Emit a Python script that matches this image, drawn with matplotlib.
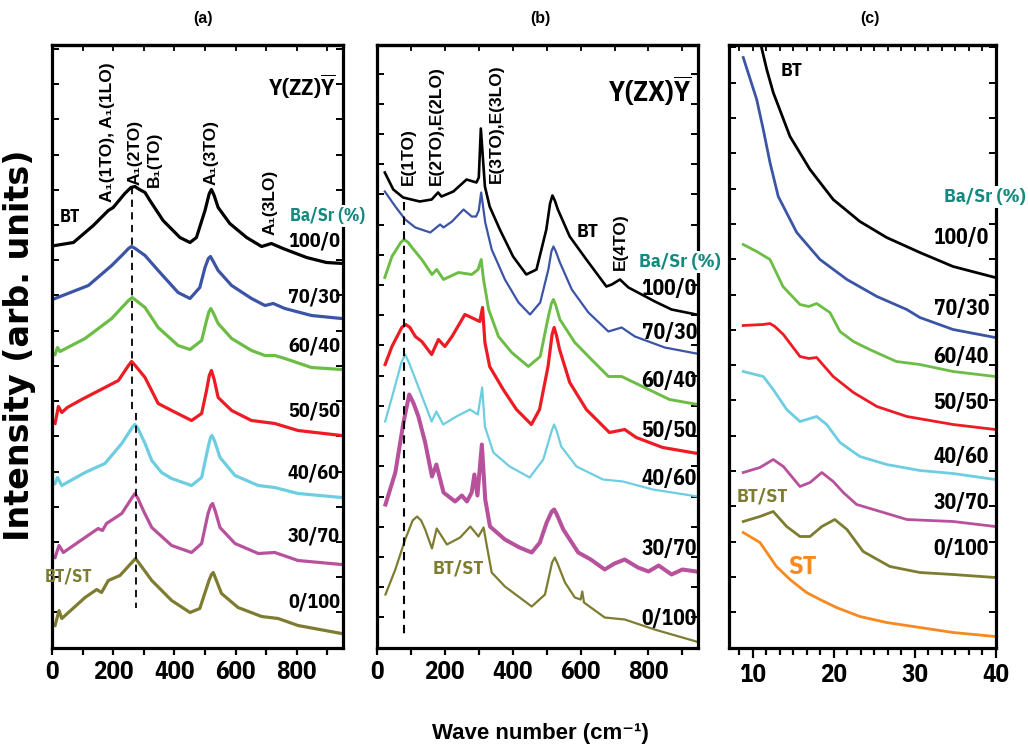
import matplotlib
matplotlib.use('Agg')
import matplotlib.pyplot as plt
from matplotlib.ticker import MultipleLocator, NullFormatter

COND = ['IBM Plex Sans Condensed', 'DejaVu Sans']
SANS = ['Liberation Sans', 'DejaVu Sans']
plt.rcParams['font.family'] = COND
plt.rcParams['font.weight'] = 'bold'
plt.rcParams['mathtext.fontset'] = 'custom'
plt.rcParams['mathtext.rm'] = 'IBM Plex Sans Condensed:bold'
plt.rcParams['mathtext.bf'] = 'IBM Plex Sans Condensed:bold'

# ---------------- colours ----------------
C_100 = '#000000'
C_70 = '#3b54a5'
C_60 = '#6cbd45'
C_50 = '#ed1c24'
C_40 = '#6dcde1'
C_30 = '#b8519c'
C_0 = '#7d7c31'
C_ST = '#f7891f'
TEAL = '#13897f'

comp_labels = ['100/0', '70/30', '60/40', '50/50', '40/60', '30/70', '0/100']

# ---------------- panel (a): Y(ZZ)Y, wave number (cm-1) vs intensity ----------------
a_100_x = [10, 70, 135, 184, 200, 238, 258, 271, 286, 304, 320, 363, 418, 451, 472, 500, 514, 521, 530, 543, 581, 636, 685, 717, 755, 832, 897, 951]
a_100_y = [402, 405, 422, 437, 440, 454, 460, 461, 458, 455, 447, 427, 410, 405, 410, 437, 454, 458, 452, 440, 424, 410, 401, 404, 399, 390, 385, 384]
a_70_x = [10, 119, 195, 228, 250, 260, 272, 304, 347, 412, 451, 483, 500, 511, 518, 527, 543, 587, 652, 696, 723, 761, 848, 946]
a_70_y = [349, 362, 382, 392, 399, 401, 399, 392, 377, 355, 349, 360, 380, 389, 391, 386, 377, 362, 349, 342, 344, 339, 332, 329]
a_60_x = [10, 18, 26, 108, 195, 250, 262, 275, 304, 347, 412, 451, 489, 505, 513, 519, 528, 543, 587, 652, 696, 728, 761, 848, 946]
a_60_y = [293, 300, 296, 309, 329, 347, 350, 347, 340, 320, 302, 298, 307, 327, 336, 339, 334, 324, 309, 297, 292, 292, 289, 280, 278]
a_50_x = [10, 21, 32, 50, 97, 173, 217, 250, 260, 272, 304, 347, 391, 456, 489, 505, 514, 521, 530, 543, 587, 652, 728, 804, 946]
a_50_y = [224, 241, 235, 240, 248, 260, 267, 282, 286, 282, 270, 244, 237, 227, 234, 257, 272, 277, 268, 250, 237, 227, 224, 217, 212]
a_40_x = [10, 18, 32, 108, 173, 228, 262, 271, 281, 304, 326, 358, 391, 456, 489, 510, 518, 523, 532, 549, 598, 674, 728, 804, 946]
a_40_y = [164, 170, 162, 175, 184, 204, 220, 223, 219, 204, 187, 175, 169, 162, 170, 200, 210, 212, 206, 190, 172, 162, 160, 154, 150]
a_30_x = [10, 23, 37, 108, 151, 165, 178, 228, 262, 271, 281, 300, 326, 391, 456, 489, 510, 519, 525, 534, 549, 598, 674, 728, 804, 946]
a_30_y = [90, 102, 95, 110, 119, 117, 124, 134, 150, 154, 149, 136, 120, 102, 95, 104, 134, 142, 144, 136, 120, 104, 94, 95, 87, 83]
a_0_x = [10, 23, 32, 108, 146, 162, 184, 222, 264, 273, 283, 326, 391, 451, 483, 513, 521, 527, 536, 554, 608, 685, 739, 804, 946]
a_0_y = [22, 37, 29, 50, 58, 55, 67, 72, 86, 89, 85, 67, 47, 35, 39, 67, 73, 75, 68, 54, 40, 31, 29, 22, 14]
a_dash1_x = [263, 263]
a_dash1_y = [460, 234]
a_dash2_x = [275, 275]
a_dash2_y = [234, 40]

# ---------------- panel (b): Y(ZX)Y ----------------
b_100_x = [23, 48, 77, 126, 161, 180, 190, 225, 264, 293, 300, 306, 318, 332, 362, 401, 440, 470, 499, 510, 517, 524, 533, 568, 617, 676, 692, 716, 741, 819, 868, 941]
b_100_y = [475, 458, 450, 446, 448, 455, 451, 456, 468, 465, 470, 519, 461, 441, 418, 391, 373, 378, 418, 444, 452, 447, 438, 411, 388, 361, 363, 368, 360, 346, 338, 333]
b_70_x = [23, 54, 83, 113, 157, 186, 196, 221, 255, 279, 292, 300, 307, 319, 338, 377, 417, 451, 481, 505, 514, 520, 527, 539, 574, 623, 682, 721, 760, 848, 941]
b_70_y = [456, 441, 428, 420, 415, 423, 420, 426, 438, 431, 431, 437, 455, 425, 398, 368, 345, 333, 345, 378, 396, 401, 396, 385, 358, 335, 316, 320, 311, 300, 294]
b_60_x = [23, 44, 70, 80, 92, 103, 132, 162, 176, 196, 240, 279, 298, 307, 314, 329, 358, 397, 446, 481, 505, 514, 520, 527, 539, 583, 632, 682, 721, 770, 862, 945]
b_60_y = [370, 391, 405, 408, 405, 400, 388, 373, 378, 368, 375, 373, 378, 388, 368, 338, 311, 295, 281, 291, 331, 344, 348, 342, 328, 305, 288, 271, 271, 263, 248, 243]
b_50_x = [24, 44, 73, 85, 97, 113, 132, 161, 181, 200, 221, 259, 303, 311, 318, 332, 372, 411, 455, 479, 504, 516, 522, 529, 538, 568, 617, 685, 730, 764, 842, 945]
b_50_y = [283, 301, 320, 323, 320, 311, 306, 293, 308, 301, 311, 333, 326, 340, 305, 281, 258, 238, 223, 238, 281, 313, 320, 312, 298, 265, 238, 215, 218, 210, 200, 194]
b_40_x = [24, 48, 72, 83, 94, 117, 161, 175, 195, 234, 274, 297, 310, 318, 343, 391, 450, 490, 515, 522, 530, 543, 588, 666, 725, 813, 945]
b_40_y = [226, 255, 285, 293, 285, 265, 226, 236, 223, 231, 238, 233, 260, 221, 195, 181, 170, 188, 217, 223, 216, 201, 181, 168, 166, 158, 151]
b_30_x = [25, 54, 78, 95, 108, 122, 142, 162, 175, 196, 215, 230, 250, 265, 279, 287, 296, 309, 319, 333, 377, 420, 456, 480, 500, 515, 522, 530, 549, 593, 630, 671, 700, 730, 769, 800, 830, 868, 900, 941]
b_30_y = [143, 175, 225, 253, 244, 231, 205, 171, 183, 155, 150, 146, 152, 146, 155, 173, 152, 203, 148, 121, 108, 100, 95, 105, 125, 136, 138, 133, 118, 95, 88, 78, 84, 88, 80, 76, 82, 73, 78, 76]
b_0_x = [25, 54, 83, 105, 118, 130, 142, 162, 176, 206, 245, 275, 299, 314, 324, 338, 377, 456, 495, 516, 524, 532, 554, 583, 600, 605, 610, 671, 730, 818, 941]
b_0_y = [53, 78, 108, 127, 131, 127, 118, 99, 119, 103, 110, 121, 111, 120, 101, 75, 61, 41, 53, 85, 90, 84, 65, 50, 48, 56, 45, 30, 28, 18, 6]
b_dash_x = [80, 80]
b_dash_y = [445, 11]

# ---------------- panel (c): low-frequency region ----------------
c_100_x = [10.7, 11.7, 12.5, 14.57, 17.04, 19.9, 23.2, 26.5, 30.6, 34.7, 39.9]
c_100_y = [612, 578, 555, 511, 478, 448, 426, 410, 395, 381, 370]
c_70_x = [8.8, 10.46, 11.27, 12.1, 13.12, 15.4, 18.27, 21.6, 25.3, 28.98, 30.6, 34.7, 39.9]
c_70_y = [590, 548, 518, 485, 451, 415, 388, 368, 351, 338, 330, 318, 310]
c_60_x = [8.8, 10.46, 12.1, 13.7, 15.8, 16.9, 17.86, 19.5, 20.74, 22.4, 24.4, 27.7, 30.6, 34.7, 39.9]
c_60_y = [403, 396, 388, 361, 343, 341, 344, 335, 316, 306, 298, 286, 283, 276, 271]
c_50_x = [8.8, 11.27, 12.1, 12.7, 13.75, 15.8, 16.9, 17.86, 19.9, 22.4, 25.3, 29.0, 34.7, 39.9]
c_50_y = [322, 323, 324, 321, 313, 291, 289, 290, 271, 255, 241, 231, 223, 218]
c_40_x = [8.8, 11.27, 12.5, 14.16, 15.8, 17.86, 19.1, 20.74, 23.2, 26.5, 30.6, 34.7, 39.9]
c_40_y = [276, 271, 258, 238, 226, 231, 223, 205, 191, 183, 177, 174, 168]
c_30_x = [8.8, 10.86, 12.5, 13.75, 15.8, 17.04, 18.5, 19.9, 21.15, 22.8, 25.7, 29.0, 34.7, 39.9]
c_30_y = [175, 180, 188, 181, 161, 165, 175, 166, 155, 143, 136, 128, 126, 121]
c_0_x = [8.8, 10.86, 12.5, 14.16, 15.8, 17.04, 18.5, 20.1, 21.6, 23.6, 26.9, 30.6, 34.7, 39.9]
c_0_y = [126, 131, 136, 121, 111, 111, 121, 128, 118, 96, 81, 75, 73, 70]
c_st_x = [8.8, 10.86, 12.9, 14.57, 16.6, 18.27, 20.3, 23.2, 26.5, 30.6, 34.7, 39.9]
c_st_y = [115, 105, 81, 68, 55, 48, 40, 31, 25, 20, 15, 11]

# ---------------- figure ----------------
W, H = 1028, 748
fig = plt.figure(figsize=(W / 100, H / 100), dpi=100)
BOT, TOP = 647.5, 45.0


def add_ax(left, right):
    return fig.add_axes([left / W, 1 - BOT / H, (right - left) / W, (BOT - TOP) / H])


def ftxt(px, py, s, **kw):
    return fig.text(px / W, 1 - py / H, s, **kw)


axa = add_ax(52, 343)
axb = add_ax(377, 698)
axc = add_ax(729, 996)

YMAX = BOT - TOP


def style(ax, xlim, major, minor, ystep, majlen=5, minlen=5):
    ax.set_xlim(*xlim)
    ax.set_ylim(0, YMAX)
    for sp in ax.spines.values():
        sp.set_linewidth(2.3)
    ax.xaxis.set_major_locator(MultipleLocator(major))
    ax.xaxis.set_minor_locator(MultipleLocator(minor))
    ax.yaxis.set_major_locator(MultipleLocator(ystep))
    ax.yaxis.set_major_formatter(NullFormatter())
    ax.tick_params(axis='x', which='major', direction='out', length=majlen, width=1.6,
                   labelsize=18, pad=4, top=False)
    ax.tick_params(axis='x', which='minor', direction='out', length=minlen, width=1.6, top=False)
    ax.tick_params(axis='y', which='major', direction='in', length=5, width=1.4,
                   left=True, right=True, labelleft=False)
    for lab in ax.get_xticklabels():
        lab.set_fontweight('bold')
    sec = ax.secondary_xaxis('top')
    sec.xaxis.set_major_locator(MultipleLocator(minor))
    sec.xaxis.set_major_formatter(NullFormatter())
    sec.tick_params(direction='in', length=4, width=1.3)
    sec.spines['top'].set_linewidth(2.3)


style(axa, (0, 951), 200, 100, 35.2)
style(axb, (0, 946), 200, 100, 30.2)
style(axc, (7.04, 40), 10, 10 / 6, 35.3, majlen=7, minlen=5)

LW_A, LW_B, LW_C = 2.3, 1.6, 2.0
a_series = [(a_100_x, a_100_y, C_100), (a_70_x, a_70_y, C_70), (a_60_x, a_60_y, C_60),
            (a_50_x, a_50_y, C_50), (a_40_x, a_40_y, C_40), (a_30_x, a_30_y, C_30),
            (a_0_x, a_0_y, C_0)]
for xs, ys, c in a_series:
    axa.plot(xs, ys, color=c, lw=LW_A, solid_joinstyle='round')
axa.plot(a_dash1_x, a_dash1_y, color='k', lw=1.3, ls=(0, (4, 3)))
axa.plot(a_dash2_x, a_dash2_y, color='k', lw=1.3, ls=(0, (4, 3)))

b_series = [(b_100_x, b_100_y, C_100, LW_B + 0.3), (b_70_x, b_70_y, C_70, LW_B), (b_60_x, b_60_y, C_60, LW_B + 0.5),
            (b_50_x, b_50_y, C_50, LW_B + 0.7), (b_40_x, b_40_y, C_40, LW_B), (b_30_x, b_30_y, C_30, LW_B + 1.3),
            (b_0_x, b_0_y, C_0, LW_B)]
for xs, ys, c, lw in b_series:
    axb.plot(xs, ys, color=c, lw=lw, solid_joinstyle='round')
axb.plot(b_dash_x, b_dash_y, color='k', lw=1.5, ls=(0, (4, 3)))

c_series = [(c_100_x, c_100_y, C_100), (c_70_x, c_70_y, C_70), (c_60_x, c_60_y, C_60),
            (c_50_x, c_50_y, C_50), (c_40_x, c_40_y, C_40), (c_30_x, c_30_y, C_30),
            (c_0_x, c_0_y, C_0), (c_st_x, c_st_y, C_ST)]
for xs, ys, c in c_series:
    axc.plot(xs, ys, color=c, lw=LW_C, solid_joinstyle='round')

# ---------------- texts ----------------
for px, s in [(203, '(a)'), (540, '(b)'), (870, '(c)')]:
    ftxt(px, 18, s, ha='center', va='center', fontsize=11.5, fontweight='bold', family=SANS)

ftxt(20, 345, 'Intensity (arb. units)', rotation=90, ha='center', va='center',
     fontsize=24, fontweight='bold', family=['DejaVu Sans'])
ftxt(540, 733, 'Wave number (cm⁻¹)', ha='center', va='center', fontsize=16,
     fontweight='bold', family=SANS)

ROT = dict(rotation=90, ha='center', va='bottom', fontsize=12.5, fontweight='bold', family=SANS)
# panel a mode labels
ftxt(107.5, 202, 'A₁(1TO), A₁(1LO)', **ROT)
ftxt(135, 185, 'A₁(2TO)', **ROT)
ftxt(154.5, 187, 'B₁(TO)', **ROT)
ftxt(211.5, 185, 'A₁(3TO)', **ROT)
ftxt(270.5, 235, 'A₁(3LO)', **ROT)
# panel b mode labels
ftxt(408.5, 185, 'E(1TO)', **ROT)
ftxt(436.5, 185, 'E(2TO),E(2LO)', **ROT)
ftxt(496.5, 183, 'E(3TO),E(3LO)', **ROT)
ftxt(620.5, 270, 'E(4TO)', **ROT)

ftxt(302, 87, r'$\mathrm{Y(ZZ)}\overline{\mathrm{Y}}$', ha='center', va='center', fontsize=16.5)
ftxt(650, 91, r'$\mathrm{Y(ZX)}\overline{\mathrm{Y}}$', ha='center', va='center', fontsize=20)

WB = dict(facecolor='white', edgecolor='none', pad=1.5)
ftxt(70, 217, 'BT', ha='center', va='center', fontsize=13)
ftxt(327, 216, 'Ba/Sr (%)', ha='center', va='center', fontsize=13, color=TEAL, bbox=WB)
ftxt(588, 232, 'BT', ha='center', va='center', fontsize=14)
ftxt(680, 262, 'Ba/Sr (%)', ha='center', va='center', fontsize=14, color=TEAL, bbox=WB)
ftxt(792, 71, 'BT', ha='center', va='center', fontsize=14)
ftxt(985, 197, 'Ba/Sr (%)', ha='center', va='center', fontsize=14, color=TEAL, bbox=WB)

a_lab_y = [241, 297, 346, 411, 473, 536, 602]
b_lab_y = [289, 333, 381, 431, 478, 549, 618]
c_lab_y = [237, 309, 357, 402, 457, 502, 549]
for s, ya, yb, yc in zip(comp_labels, a_lab_y, b_lab_y, c_lab_y):
    ftxt(340, ya, s, ha='right', va='center', fontsize=14.5)
    ftxt(697, yb, s, ha='right', va='center', fontsize=15.5)
    ftxt(989, yc, s, ha='right', va='center', fontsize=15.5)

ftxt(69, 576, 'BT/ST', ha='center', va='center', fontsize=13, color=C_0)
ftxt(458, 568, 'BT/ST', ha='center', va='center', fontsize=14, color=C_0)
ftxt(762, 497, 'BT/ST', ha='center', va='center', fontsize=14, color=C_0)
ftxt(803, 567, 'ST', ha='center', va='center', fontsize=19, color=C_ST)

fig.savefig('out.png', dpi=100)
